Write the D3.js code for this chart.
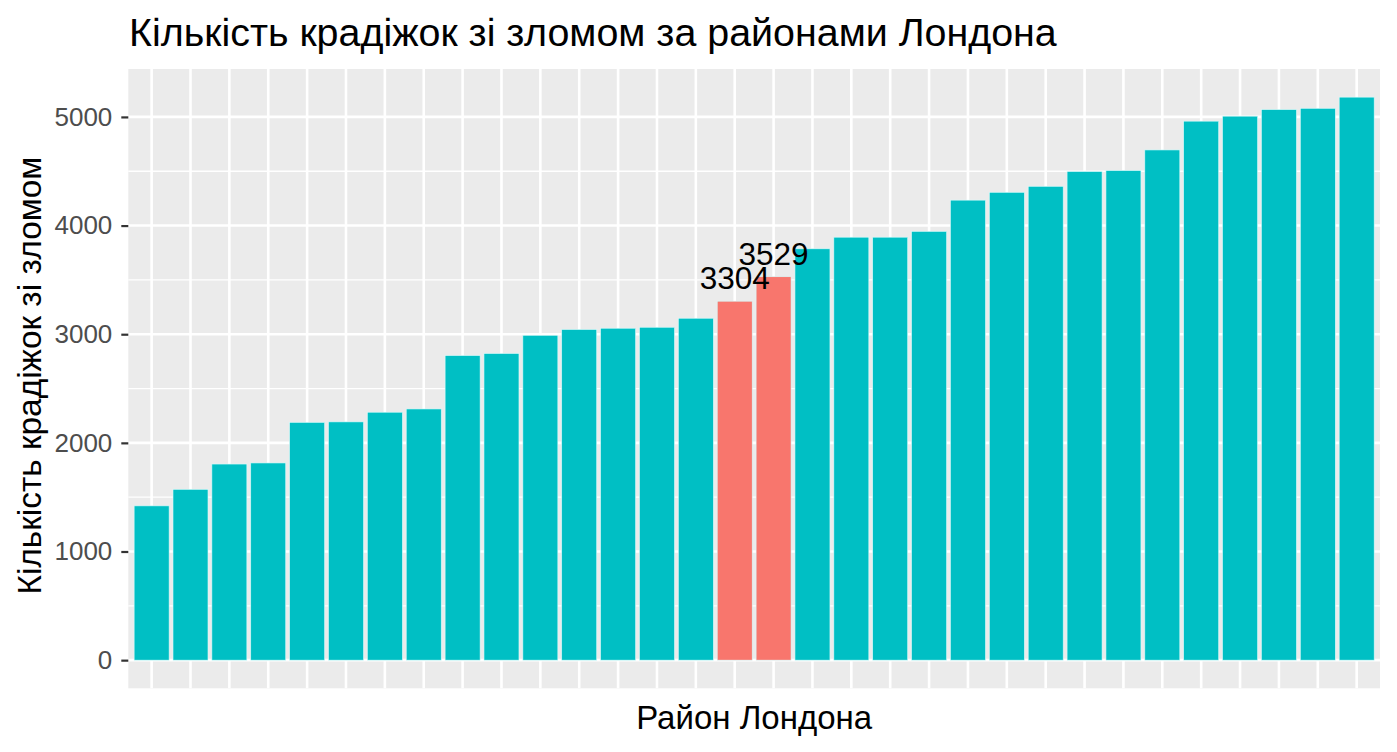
<!DOCTYPE html>
<html>
<head>
<meta charset="utf-8">
<script src="https://cdn.jsdelivr.net/npm/d3@7"></script>
<style>
  body { margin: 0; background: #fff; }
  text { font-family: "Liberation Sans", Arial, sans-serif; }
</style>
</head>
<body>
<div id="main"></div>
<script>
// burglary counts per borough, sorted ascending
var counts = [1420, 1572, 1805, 1815, 2188, 2193, 2282, 2312, 2803, 2822,
              2990, 3043, 3055, 3064, 3147, 3304, 3529, 3786, 3893, 3893,
              3946, 4234, 4306, 4361, 4497, 4506, 4696, 4961, 5007, 5067,
              5079, 5182];
// boroughs drawn in the highlight colour, with their value printed above
var highlighted = [15, 16];
var boroughs = counts.map(function(d, i) { return "B" + (i + 1); });
var yTicks = [0, 1000, 2000, 3000, 4000, 5000];
var yMinor = [500, 1500, 2500, 3500, 4500];

var ctx = {
    w: 1397,
    h: 752,
    left: 128.3,
    right: 1380,
    top: 69,
    bottom: 688.3,
    fill: "#00BFC4",
    hiFill: "#F8766D",
    panel: "#EBEBEB"
};

var createViz = function() {
    var svg = d3.select("#main").append("svg")
        .attr("width", ctx.w)
        .attr("height", ctx.h);

    var maxV = d3.max(counts);
    // ggplot style expansion: 5% on both sides
    var yScale = d3.scaleLinear()
        .domain([-0.05 * maxV, 1.05 * maxV])
        .range([ctx.bottom, ctx.top]);
    var xScale = d3.scaleBand()
        .domain(boroughs)
        .range([ctx.left, ctx.right])
        .paddingInner(0.1)
        .paddingOuter(0.15);

    // panel background
    svg.append("rect")
        .attr("x", ctx.left).attr("y", ctx.top)
        .attr("width", ctx.right - ctx.left)
        .attr("height", ctx.bottom - ctx.top)
        .attr("fill", ctx.panel);

    var grid = svg.append("g");
    grid.selectAll(".minor").data(yMinor).enter().append("line")
        .attr("x1", ctx.left).attr("x2", ctx.right)
        .attr("y1", d => yScale(d)).attr("y2", d => yScale(d))
        .attr("stroke", "#fff").attr("stroke-width", 1.3);
    grid.selectAll(".major").data(yTicks).enter().append("line")
        .attr("x1", ctx.left).attr("x2", ctx.right)
        .attr("y1", d => yScale(d)).attr("y2", d => yScale(d))
        .attr("stroke", "#fff").attr("stroke-width", 2.6);
    grid.selectAll(".vert").data(boroughs).enter().append("line")
        .attr("x1", d => xScale(d) + xScale.bandwidth() / 2)
        .attr("x2", d => xScale(d) + xScale.bandwidth() / 2)
        .attr("y1", ctx.top).attr("y2", ctx.bottom)
        .attr("stroke", "#fff").attr("stroke-width", 2.6);

    // bars
    svg.append("g").selectAll("rect").data(counts).enter().append("rect")
        .attr("x", (d, i) => xScale(boroughs[i]))
        .attr("width", xScale.bandwidth())
        .attr("y", d => yScale(d))
        .attr("height", d => yScale(0) - yScale(d))
        .attr("fill", (d, i) => highlighted.includes(i) ? ctx.hiFill : ctx.fill)
        .attr("stroke", "#d6fbfb")
        .attr("stroke-width", 0.6);

    // value labels on highlighted bars
    svg.append("g").selectAll("text").data(highlighted).enter().append("text")
        .attr("x", i => xScale(boroughs[i]) + xScale.bandwidth() / 2)
        .attr("y", i => yScale(counts[i]) - 12)
        .attr("text-anchor", "middle")
        .attr("font-size", 31.5)
        .attr("fill", "#000")
        .text(i => counts[i]);

    // y axis
    var yAxis = svg.append("g")
        .attr("transform", `translate(${ctx.left},0)`)
        .call(d3.axisLeft(yScale).tickValues(yTicks).tickFormat(d3.format("d"))
            .tickSize(7).tickPadding(9));
    yAxis.select(".domain").remove();
    yAxis.selectAll(".tick line").attr("stroke", "#333").attr("stroke-width", 2.2);
    yAxis.selectAll(".tick text")
        .attr("fill", "#4D4D4D")
        .attr("font-size", 26)
        .attr("font-family", "Liberation Sans, Arial, sans-serif");

    // titles
    svg.append("text")
        .attr("x", 129)
        .attr("y", 46)
        .attr("font-size", 39.4)
        .attr("fill", "#000")
        .text("Кількість крадіжок зі зломом за районами Лондона");
    svg.append("text")
        .attr("x", (ctx.left + ctx.right) / 2)
        .attr("y", 729)
        .attr("text-anchor", "middle")
        .attr("font-size", 33)
        .attr("fill", "#000")
        .text("Район Лондона");
    svg.append("text")
        .attr("transform", `translate(41,${(ctx.top + ctx.bottom) / 2 - 3}) rotate(-90)`)
        .attr("text-anchor", "middle")
        .attr("font-size", 33.4)
        .attr("fill", "#000")
        .text("Кількість крадіжок зі зломом");
};

createViz();
</script>
</body>
</html>
